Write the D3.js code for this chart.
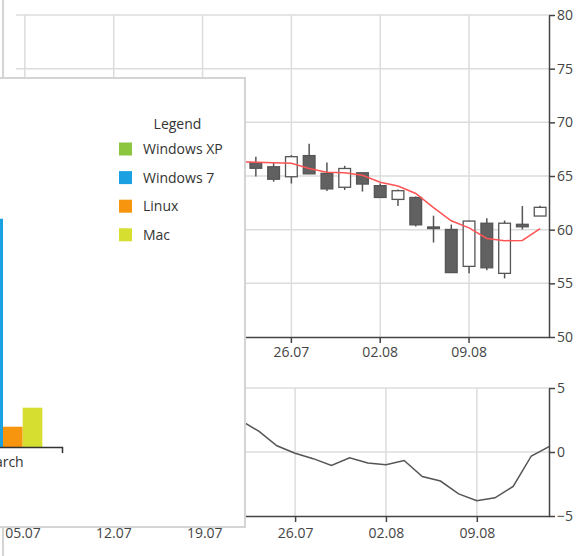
<!DOCTYPE html>
<html lang="en">
<head>
<meta charset="UTF-8">
<title>d3 Candles</title>
<style>
    body { margin: 0; background: #fff; }
    svg { display: block; font-family: "Open Sans", sans-serif; }
</style>
</head>
<body>
<script src="https://cdn.jsdelivr.net/npm/d3@7"></script>
<script>
    // trading days on the x axis (weekdays only)
    const firstDay = "2010-07-05", lastDay = "2010-08-13";
    const tickDays = ["2010-07-05", "2010-07-12", "2010-07-19", "2010-07-26", "2010-08-02", "2010-08-09"];

    // candles that show right of the popup
    const candleDays = ["2010-07-22", "2010-07-23", "2010-07-26", "2010-07-27", "2010-07-28", "2010-07-29",
        "2010-07-30", "2010-08-02", "2010-08-03", "2010-08-04", "2010-08-05", "2010-08-06",
        "2010-08-09", "2010-08-10", "2010-08-11", "2010-08-12", "2010-08-13"];
    const openValues  = [66.25, 65.86, 64.93, 66.9, 65.25, 63.95, 65.3, 64.1, 62.82, 63.0, 60.25, 60.02, 56.58, 60.6, 55.93, 60.5, 61.27];
    const highValues  = [66.8, 66.2, 66.95, 68.0, 66.25, 65.95, 65.3, 64.3, 63.75, 63.1, 61.3, 60.48, 60.85, 61.07, 60.85, 62.2, 62.23];
    const lowValues   = [64.95, 64.47, 64.3, 65.2, 63.6, 63.7, 63.55, 63.0, 62.2, 60.3, 58.8, 56.0, 55.93, 56.23, 55.46, 60.02, 61.27];
    const closeValues = [65.72, 64.7, 66.8, 65.2, 63.8, 65.7, 64.25, 63.0, 63.63, 60.45, 60.2, 56.0, 60.8, 56.45, 60.6, 60.27, 62.08];

    // moving average and lower oscillator
    const lineDays = ["2010-07-21"].concat(candleDays);
    const maValues  = [66.32, 66.28, 66.24, 66.18, 65.69, 65.36, 65.3, 65.07, 64.42, 64.07, 63.37, 62.05, 60.83, 60.17, 59.18, 58.97, 59.0, 60.09];
    const oscValues = [2.47, 1.63, 0.49, -0.1, -0.52, -1.05, -0.45, -0.86, -0.99, -0.66, -1.91, -2.27, -3.27, -3.81, -3.58, -2.69, -0.31, 0.44];

    const priceTicks = [50, 55, 60, 65, 70, 75, 80];
    const oscTicks = [-5, 0, 5];

    // popup bar chart
    const months = ["March"];
    const osNames = ["Windows XP", "Windows 7", "Linux", "Mac"];
    const osColors = ["#8cc63e", "#1ba1e2", "#f7960e", "#d6df2f"];
    const marchShare = [45, 36, 3.2, 6.2];

    const parseDay = d3.timeParse("%Y-%m-%d");
    const fmtDay = d3.timeFormat("%Y-%m-%d");
    const fmtTick = d3.timeFormat("%d.%m");
    const days = d3.timeDay.range(parseDay(firstDay), d3.timeDay.offset(parseDay(lastDay), 1))
        .filter(d => d.getDay() % 6 !== 0).map(fmtDay);

    const candles = candleDays.map((d, i) => ({
        day: d, open: openValues[i], high: highValues[i], low: lowValues[i], close: closeValues[i]
    }));

    const width = 588, height = 556;
    const svg = d3.select("body").append("svg").attr("width", width).attr("height", height);

    const gridColor = "#dcdcdc", axisColor = "#444";

    // ---- upper price chart ----
    const upper = {left: 16, right: 549, top: 15, bottom: 337};
    const xTop = d3.scaleBand().domain(days).range([upper.left, upper.right]);
    const yTop = d3.scaleLinear().domain([50, 80]).range([upper.bottom, upper.top]);
    const cx = d => xTop(d) + xTop.bandwidth() / 2;

    const gTop = svg.append("g");
    gTop.append("g").selectAll("line").data(priceTicks.slice(1)).join("line")
        .attr("x1", upper.left).attr("x2", upper.right)
        .attr("y1", d => yTop(d)).attr("y2", d => yTop(d))
        .attr("stroke", gridColor).attr("stroke-width", 1.5);
    gTop.append("g").selectAll("line").data(tickDays).join("line")
        .attr("x1", d => cx(d)).attr("x2", d => cx(d))
        .attr("y1", upper.top).attr("y2", upper.bottom)
        .attr("stroke", gridColor).attr("stroke-width", 1.5);

    // candles
    const bodyW = xTop.bandwidth() * 0.66;
    const cg = gTop.append("g").selectAll("g").data(candles).join("g");
    cg.append("line")
        .attr("x1", d => cx(d.day)).attr("x2", d => cx(d.day))
        .attr("y1", d => yTop(d.high)).attr("y2", d => yTop(d.low))
        .attr("stroke", "#555").attr("stroke-width", 1.5);
    cg.append("rect")
        .attr("x", d => cx(d.day) - bodyW / 2).attr("width", bodyW)
        .attr("y", d => yTop(Math.max(d.open, d.close)))
        .attr("height", d => Math.max(1.5, Math.abs(yTop(d.open) - yTop(d.close))))
        .attr("fill", d => d.close < d.open ? "#616161" : "#fff")
        .attr("stroke", "#555").attr("stroke-width", 1.3);

    // moving average
    gTop.append("path")
        .datum(lineDays.map((d, i) => [d, maValues[i]]))
        .attr("fill", "none").attr("stroke", "#ff5454").attr("stroke-width", 1.5)
        .attr("d", d3.line().x(d => cx(d[0])).y(d => yTop(d[1])));

    const axTop = gTop.append("g").attr("transform", `translate(0,${upper.bottom})`)
        .call(d3.axisBottom(xTop).tickValues(tickDays).tickSizeOuter(0).tickPadding(4)
            .tickFormat(d => fmtTick(parseDay(d))));
    const ayTop = gTop.append("g").attr("transform", `translate(${upper.right},0)`)
        .call(d3.axisRight(yTop).tickValues(priceTicks).tickSizeOuter(0).tickPadding(2));

    // ---- lower oscillator chart ----
    const lower = {left: 22.5, right: 549.5, top: 388, bottom: 516};
    const xLow = d3.scalePoint().domain(days).range([lower.left, lower.right]);
    const yLow = d3.scaleLinear().domain([-5, 5]).range([lower.bottom, lower.top]);

    const gLow = svg.append("g");
    gLow.append("g").selectAll("line").data(oscTicks.slice(1)).join("line")
        .attr("x1", lower.left).attr("x2", upper.right)
        .attr("y1", d => yLow(d)).attr("y2", d => yLow(d))
        .attr("stroke", gridColor).attr("stroke-width", 1.5);
    gLow.append("g").selectAll("line").data(tickDays).join("line")
        .attr("x1", d => xLow(d)).attr("x2", d => xLow(d))
        .attr("y1", lower.top).attr("y2", lower.bottom)
        .attr("stroke", gridColor).attr("stroke-width", 1.5);
    gLow.append("path")
        .datum(lineDays.map((d, i) => [d, oscValues[i]]))
        .attr("fill", "none").attr("stroke", "#555").attr("stroke-width", 1.5)
        .attr("d", d3.line().x(d => xLow(d[0])).y(d => yLow(d[1])));

    const axLow = gLow.append("g").attr("transform", `translate(0,${lower.bottom})`)
        .call(d3.axisBottom(xLow).tickValues(tickDays).tickSizeOuter(0).tickPadding(6)
            .tickFormat(d => fmtTick(parseDay(d))));
    const ayLow = gLow.append("g").attr("transform", `translate(${upper.right},0)`)
        .call(d3.axisRight(yLow).tickValues(oscTicks).tickSizeOuter(0).tickPadding(2));

    [axTop, ayTop, axLow, ayLow].forEach(a => {
        a.selectAll("path, line").attr("stroke", axisColor).attr("stroke-width", 1.5);
        a.selectAll("text").attr("fill", axisColor).style("font-size", "14px").style("font-family", "Open Sans");
    });

    // left border of the host
    svg.append("line").attr("x1", 3).attr("x2", 3).attr("y1", 0).attr("y2", height)
        .attr("stroke", "#d4d4d4").attr("stroke-width", 2);

    // ---- popup with bar chart and legend ----
    const pop = svg.append("g");
    pop.append("rect").attr("x", -10).attr("y", 78).attr("width", 255).attr("height", 449)
        .attr("fill", "#fff").attr("stroke", "#d4d4d4").attr("stroke-width", 2);

    const x0 = d3.scaleBand().domain(months).range([-56, 62]).padding(0.2);
    const x1 = d3.scaleBand().domain(osNames).range([0, x0.bandwidth()]);
    const yBar = d3.scaleLinear().domain([0, 50]).range([447, 130]);
    const color = d3.scaleOrdinal().domain(osNames).range(osColors);

    pop.append("g").selectAll("rect")
        .data(osNames.map((n, i) => ({month: "March", name: n, value: marchShare[i]})))
        .join("rect")
            .attr("x", d => x0(d.month) + x1(d.name))
            .attr("width", x1.bandwidth())
            .attr("y", d => yBar(d.value))
            .attr("height", d => yBar(0) - yBar(d.value))
            .attr("fill", d => color(d.name));

    const axBar = pop.append("g").attr("transform", "translate(0,447)")
        .call(d3.axisBottom(x0).tickSize(0).tickSizeOuter(6).tickPadding(10));
    axBar.selectAll("path").attr("stroke", "#333").attr("stroke-width", 1.5);
    axBar.selectAll("text").attr("fill", "#333").style("font-size", "14px").style("font-family", "Open Sans");

    // legend
    const lg = pop.append("g");
    lg.append("text").attr("x", 177.5).attr("y", 129).attr("text-anchor", "middle")
        .attr("fill", "#333").style("font-size", "14px").text("Legend");
    const items = lg.selectAll("g").data(osNames).join("g")
        .attr("transform", (d, i) => `translate(119,${149 + i * 28.6})`);
    items.append("rect").attr("x", 0).attr("y", -6.5).attr("width", 13).attr("height", 13)
        .attr("fill", d => color(d));
    items.append("text").attr("x", 24).attr("y", 5).attr("fill", "#333")
        .style("font-size", "14px").text(d => d);
</script>
</body>
</html>
